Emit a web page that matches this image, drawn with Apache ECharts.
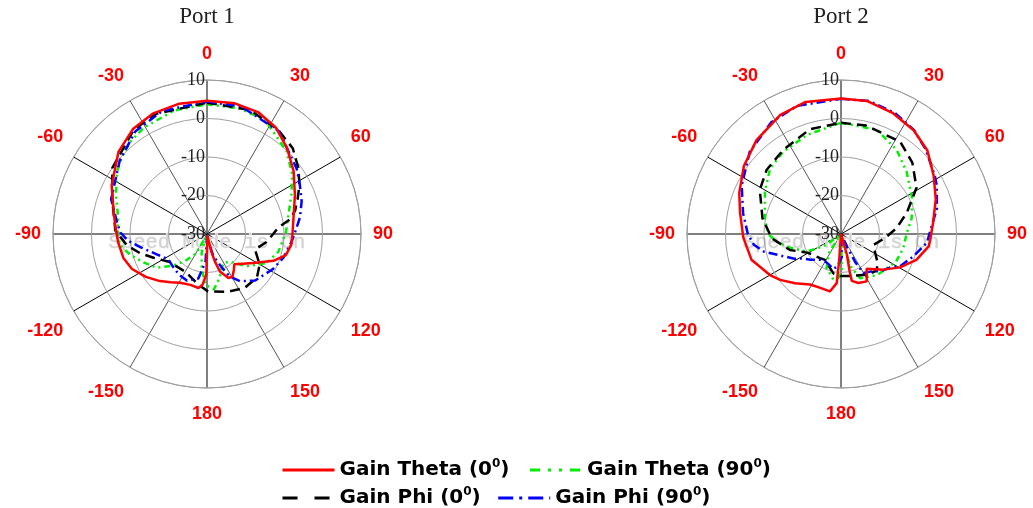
<!DOCTYPE html>
<html>
<head>
<meta charset="utf-8">
<script src="https://cdn.jsdelivr.net/npm/echarts@6/dist/echarts.min.js"></script>
<style>
  html, body { margin: 0; padding: 0; background: #ffffff; }
  #chart { width: 1033px; height: 508px; }
</style>
</head>
<body>
<div id="chart"></div>
<script>
// Radiation patterns, gain in dB against angle in degrees (clockwise from the top).
// Each entry is [angle, gain].
const portTitles = ['Port 1', 'Port 2'];
const gainRange = [-30, 10];
const gainStep = 10;
const angleStep = 30;

const p1Theta0 = [[0,4.6],[12,4.7],[23,4.3],[33,2.9],[43,0.5],[54,-2.2],[66,-5],[80,-7.2],[90,-7.8],[97,-7.9],[105,-8.8],[112,-11.4],[122,-15.8],[130,-18],[138,-19.4],[143,-18.4],[149,-17.1],[154,-17.3],[161,-19.7],[164,-22.6],[166,-25.3],[170,-29.5],[179,-29.5],[180,-25],[181,-19.5],[185,-16.8],[189,-15.8],[198,-16.1],[209,-15.5],[217,-14.3],[225,-12.7],[235,-10.6],[245,-8.5],[254,-7.4],[265,-6.8],[276,-6],[284,-5],[297,-2.2],[313,1.4],[325,3.4],[336,4.3],[348,4.6],[360,4.6]];
const p1Theta90 = [[0,3.7],[14,3.7],[27,3.3],[44,-0.2],[55,-3],[65,-5.8],[77,-8.3],[89,-9.5],[104,-10.9],[116,-12.8],[129,-16.7],[141,-20.8],[151,-21.3],[158,-20],[164,-18.1],[173,-15.5],[182,-16.8],[189,-21.1],[196,-25],[204,-29],[210,-24],[219,-21],[227,-18],[236,-14.3],[246,-11.9],[255,-9.3],[263,-7.2],[271,-6.8],[280,-6.6],[293,-4.3],[305,-1.5],[314,0.2],[321,1.2],[329,2.1],[345,3.2],[360,3.7]];
const p1Phi0 = [[0,4.1],[19,4.1],[34,2.8],[45,1.5],[54,-0.7],[62,-2.8],[69,-4.8],[75,-6.3],[80,-8.1],[85,-11.5],[90,-12.8],[98,-14.5],[108,-16.9],[120,-14.2],[131,-12.8],[145,-12.9],[161,-14.1],[179,-15.1],[190,-16.7],[199,-17.9],[210,-18.7],[222,-18.5],[233,-17.9],[246,-14.8],[254,-11.9],[262,-9],[272,-6.2],[290,-3.8],[305,0],[325,3.1],[337,3.9],[360,4.1]];
const p1Phi90 = [[0,4.4],[15,4.3],[35,2.6],[54,-1.2],[62,-2.7],[71,-4],[80,-5.5],[88,-7],[95,-7.9],[107,-9.2],[118,-10.6],[134,-12.6],[145,-15],[152,-17.5],[156,-20.4],[164,-24],[172,-28.5],[177,-29.5],[183,-22.9],[191,-18.2],[203,-16.8],[215,-17.2],[228,-17.8],[237,-18],[248,-15.9],[258,-12.7],[265,-9.5],[271,-7.5],[277,-6.5],[290,-3.5],[310,-0.4],[325,2.5],[340,4],[360,4.4]];

const p2Theta0 = [[0,5.2],[11,5.2],[23,4.2],[35,2.9],[46,1.2],[58,-1.6],[70,-3.8],[83,-5.9],[94,-6.8],[98,-7],[109,-9.3],[119.5,-12.4],[130,-15.6],[143.5,-18.8],[151.5,-16],[160.5,-16.5],[167,-17.5],[167,-20],[164,-24.4],[170,-30],[180,-30],[184,-22.9],[185,-17.2],[191,-14.8],[201,-15],[211.5,-14.6],[223,-12.5],[233,-10.2],[240,-8.7],[254,-5.8],[268,-4.6],[282,-3.2],[292,-1.5],[305,0.8],[318,2.8],[333,4.7],[345,5.5],[360,5.2]];
const p2Theta90 = [[0,-1.1],[19,-1.4],[33.5,-3.8],[46.5,-6.5],[63,-9.3],[77.5,-11.2],[89,-12.9],[103,-13.4],[117,-14],[139,-15.8],[156.6,-17.5],[162.6,-20.7],[166,-25],[170,-29.5],[179,-20.3],[183.5,-18.6],[189.5,-18],[203,-20.4],[212,-24],[220,-29.5],[235,-24.4],[243,-20],[255,-16.3],[263,-13.2],[270,-11.1],[281.6,-9.8],[299,-7.4],[312.8,-4.9],[325,-3.9],[341,-2.8],[360,-1.1]];
const p2Phi0 = [[0,-1.1],[13,-1.1],[32.6,-1.5],[45,-3.8],[58.5,-7],[72,-12],[84,-15.5],[95,-18.5],[108,-21],[118,-20],[127,-18.2],[135.5,-16.7],[148,-17.5],[160,-18.5],[170,-18.9],[181,-19.1],[191,-19.6],[200,-21],[211.6,-22.1],[221,-21.7],[240,-20.2],[252.6,-16.1],[266.4,-12],[281.3,-9.2],[298.5,-6],[310.7,-4.5],[325.5,-3.5],[343.5,-1.6],[360,-1.1]];
const p2Phi90 = [[0,5.1],[12,5.3],[24,4.4],[35,3.0],[45,1.1],[58,-1.3],[63,-2.1],[75,-4.2],[86,-6.5],[96,-7.6],[107,-10.3],[118.7,-12.5],[124.5,-14.6],[133,-15.8],[141,-17.5],[150,-18.3],[153,-21.6],[155,-26],[160,-30],[178,-24],[186,-21.5],[193,-20.7],[202,-21.5],[210,-21.8],[218,-21.5],[230,-19.6],[238,-18],[242,-16.3],[250,-13.5],[257,-9.5],[263,-7.2],[270,-5.8],[282,-4],[296,-1.3],[312,1.9],[328,4.2],[341,5.2],[360,5.1]];

// Legend entries: plain part, superscript, closing part
const legendText = {
  theta0:  ['Gain Theta (0', '0', ')'],
  theta90: ['Gain Theta (90', '0', ')'],
  phi0:    ['Gain Phi (0', '0', ')'],
  phi90:   ['Gain Phi (90', '0', ')']
};

const traceStyle = {
  theta0:  { color: '#ff0000', type: 'solid',            legendType: 'solid' },
  theta90: { color: '#00ee00', type: [6, 4, 2, 4, 2, 4], legendType: [10, 8, 3, 8, 3, 8] },
  phi0:    { color: '#000000', type: [10, 6],            legendType: [15, 17] },
  phi90:   { color: '#0000ff', type: [9, 4, 2, 4],       legendType: [15, 6, 3, 6] }
};

const ports = [
  { center: [207, 234], traces: { theta0: p1Theta0, theta90: p1Theta90, phi0: p1Phi0, phi90: p1Phi90 } },
  { center: [841, 234], traces: { theta0: p2Theta0, theta90: p2Theta90, phi0: p2Phi0, phi90: p2Phi90 } }
];
const drawOrder = ['theta90', 'phi0', 'phi90', 'theta0'];

// spokes every 30 degrees: the main ones black, the ±30 / ±150 ones grey
const spokeColors = ['#000', '#555', '#000', '#000', '#000', '#555', '#000', '#555', '#000', '#000', '#000', '#555'];

const polar = [], angleAxis = [], radiusAxis = [], series = [];
ports.forEach((p, i) => {
  polar.push({ center: p.center, radius: 154 });
  angleAxis.push({
    polarIndex: i, type: 'value', min: 0, max: 360, interval: angleStep,
    startAngle: 90, clockwise: true,
    axisLine: { lineStyle: { color: '#9a9a9a', width: 1 } },
    axisTick: { show: false },
    axisLabel: {
      margin: 12, padding: [5, 0, 5, 0],
      color: '#ff0000', fontWeight: 'bold', fontSize: 18, fontFamily: 'Liberation Sans',
      formatter: v => (v >= 360 ? '' : String(v > 180 ? v - 360 : v))
    },
    splitLine: { show: true, lineStyle: { color: spokeColors, width: 1 } }
  });
  radiusAxis.push({
    polarIndex: i, type: 'value', min: gainRange[0], max: gainRange[1], interval: gainStep,
    axisLine: { show: false }, axisTick: { show: false },
    axisLabel: { color: '#222', fontSize: 18, fontFamily: 'Liberation Serif', margin: 2 },
    splitLine: { show: true, lineStyle: { color: '#a0a0a0', width: 1 } },
    z: 3
  });
  drawOrder.forEach(key => {
    const st = traceStyle[key];
    series.push({
      name: key, type: 'line', coordinateSystem: 'polar', polarIndex: i,
      symbol: 'none', smooth: false, z: 4,
      lineStyle: { color: st.color, width: 2.5, type: st.type },
      itemStyle: { color: st.color },
      data: p.traces[key].map(([a, g]) => [g, a])
    });
  });
});

// legend keys show only the line sample, no marker
function legendItem(key) {
  return {
    name: key,
    lineStyle: { type: traceStyle[key].legendType, width: 3, color: traceStyle[key].color },
    itemStyle: { opacity: 0, color: 'rgba(0,0,0,0)', borderColor: 'rgba(0,0,0,0)', borderWidth: 0 }
  };
}
function makeLegend(top, gap, keys) {
  return {
    orient: 'horizontal', left: 281, top: top, itemGap: gap, padding: 0,
    itemWidth: 52, itemHeight: 14,
    data: keys.map(legendItem),
    formatter: k => '{m|' + legendText[k][0] + '}{s|' + legendText[k][1] + '}{m|' + legendText[k][2] + '}',
    textStyle: {
      rich: {
        m: { fontFamily: 'DejaVu Sans', fontWeight: 'bold', fontSize: 20, color: '#000', lineHeight: 24 },
        s: { fontFamily: 'DejaVu Sans', fontWeight: 'bold', fontSize: 12, color: '#000', verticalAlign: 'top', lineHeight: 14 }
      }
    }
  };
}

const option = {
  backgroundColor: '#ffffff',
  animation: false,
  polar, angleAxis, radiusAxis, series,
  legend: [
    makeLegend(458, 19, ['theta0', 'theta90']),
    makeLegend(486, 16, ['phi0', 'phi90'])
  ],
  graphic: [
    { type: 'text', x: 207, y: 17, style: { text: portTitles[0], align: 'center', verticalAlign: 'middle', font: '23px "Liberation Serif"', fill: '#222' } },
    { type: 'text', x: 841, y: 17, style: { text: portTitles[1], align: 'center', verticalAlign: 'middle', font: '23px "Liberation Serif"', fill: '#222' } },
    { type: 'text', x: 207, y: 243, z: 1, style: { text: 'Speed Mode is On', align: 'center', verticalAlign: 'middle', font: '20.5px "Liberation Mono"', fill: '#d2d2d2', stroke: '#eeeeee', lineWidth: 1 } },
    { type: 'text', x: 841, y: 243, z: 1, style: { text: 'Speed Mode is On', align: 'center', verticalAlign: 'middle', font: '20.5px "Liberation Mono"', fill: '#d2d2d2', stroke: '#eeeeee', lineWidth: 1 } }
  ]
};

const chart = echarts.init(document.getElementById('chart'), null, { renderer: 'canvas' });
chart.setOption(option);
</script>
</body>
</html>
